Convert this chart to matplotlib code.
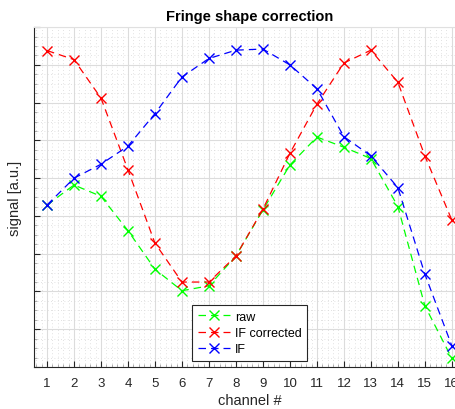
import matplotlib.pyplot as plt
from matplotlib.ticker import MultipleLocator, NullFormatter

plt.rcParams['font.family'] = ['Liberation Sans', 'DejaVu Sans']

# Datos (unidades arbitrarias)
canales = list(range(1, 17))
raw = [4.29, 4.82, 4.52, 3.61, 2.59, 2.02, 2.15, 2.94,
       4.16, 5.35, 6.09, 5.82, 5.52, 4.25, 1.62, 0.23]
if_corr = [8.38, 8.14, 7.12, 5.22, 3.28, 2.25, 2.25, 2.94,
           4.18, 5.66, 6.96, 8.05, 8.39, 7.54, 5.59, 3.89]
if_sig = [4.29, 5.00, 5.37, 5.85, 6.71, 7.68, 8.17, 8.39,
          8.42, 8.00, 7.37, 6.10, 5.59, 4.75, 2.46, 0.56]

fig = plt.figure(figsize=(4.56, 4.10), dpi=100)
# el eje sigue mas alla del borde derecho (la imagen original esta recortada)
ax = fig.add_axes([0.0735, 0.1024, 0.947, 0.829])

estilo = dict(linestyle=(0, (6, 4)), linewidth=0.9, marker='x',
              markersize=6.5, markeredgewidth=1.0)
ax.plot(canales, raw, color='#00ff00', label='raw', **estilo)
ax.plot(canales, if_corr, color='#ff0000', label='IF corrected', **estilo)
ax.plot(canales, if_sig, color='#0000ff', label='IF', **estilo)

ax.set_xlim(0.5, 16.5)
ax.set_ylim(0, 9)
ax.xaxis.set_major_locator(MultipleLocator(1))
ax.xaxis.set_minor_locator(MultipleLocator(0.2))
ax.yaxis.set_major_locator(MultipleLocator(1))
ax.yaxis.set_minor_locator(MultipleLocator(0.25))
ax.yaxis.set_major_formatter(NullFormatter())

ax.grid(True, which='major', color='#dcdcdc', linewidth=0.8)
ax.grid(True, which='minor', color='#d8d8d8', linestyle=(0, (1, 3)), linewidth=0.6)
ax.set_axisbelow(True)

ax.tick_params(which='both', direction='in', colors='#262626', labelsize=9.5,
               top=False, right=False)
ax.tick_params(which='major', length=4, pad=7)
ax.tick_params(which='minor', length=2, color='#a0a0a0')
for lado in ['left', 'bottom']:
    ax.spines[lado].set_color('#262626')
ax.spines['top'].set_color('#e0e0e0')
ax.spines['right'].set_visible(False)

ax.set_title('Fringe shape correction', fontsize=10.5, fontweight='bold', pad=5)
ax.set_xlabel('channel #', fontsize=10.5, color='#262626', labelpad=3)
ax.set_ylabel('signal [a.u.]', fontsize=10.5, color='#262626', labelpad=1)

leg = ax.legend(loc='lower left', bbox_to_anchor=(0.367, 0.018), fontsize=9,
                fancybox=False, framealpha=1, edgecolor='#262626',
                handlelength=2.6, handletextpad=0.4, borderpad=0.45,
                labelspacing=0.35, borderaxespad=0)
leg.get_frame().set_linewidth(0.8)

fig.savefig('out.png', dpi=100)
